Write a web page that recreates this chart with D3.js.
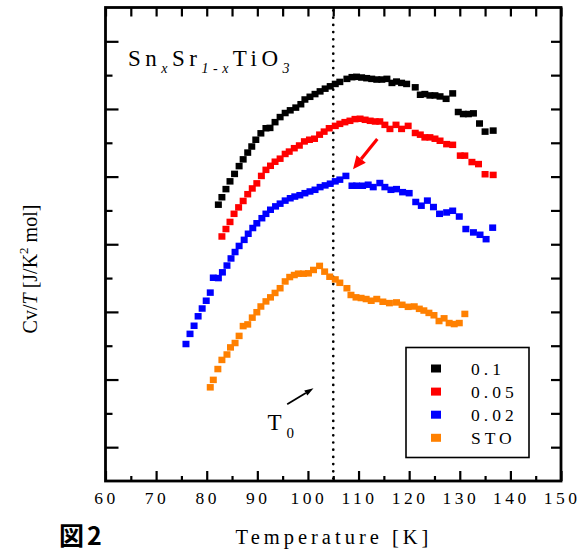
<!DOCTYPE html>
<html>
<head>
<meta charset="utf-8">
<script src="https://cdn.jsdelivr.net/npm/d3@7"></script>
<style>
  body { margin: 0; background: #fff; }
  svg { display: block; }
  text { font-family: "Liberation Serif", "Times New Roman", serif; fill: #000; }
</style>
</head>
<body>
<div id="chart"></div>
<script>
// Cv/T data, [T in K, Cv/T in plot units]
const x01 = [
  [82.3, 8.17], [83.0, 8.39], [83.8, 8.63], [84.6, 8.86], [85.5, 9.08], [86.4, 9.31],
  [87.2, 9.51], [88.1, 9.71], [88.9, 9.89], [89.7, 10.09], [90.7, 10.28], [91.7, 10.43],
  [92.5, 10.44], [93.5, 10.61], [94.5, 10.76], [95.5, 10.88], [96.5, 10.96], [97.6, 11.04],
  [98.6, 11.14], [99.4, 11.28], [100.4, 11.36], [101.4, 11.44], [102.4, 11.52], [103.4, 11.60],
  [104.4, 11.67], [105.4, 11.74], [106.3, 11.80], [107.7, 11.89], [108.7, 11.94], [109.6, 11.95],
  [110.6, 11.93], [111.6, 11.91], [112.6, 11.89], [113.6, 11.87], [114.6, 11.87], [115.6, 11.89],
  [116.6, 11.77], [117.5, 11.81], [118.5, 11.77], [119.5, 11.74], [121.2, 11.64], [122.2, 11.42],
  [123.1, 11.44], [124.1, 11.40], [125.1, 11.40], [126.1, 11.37], [127.3, 11.30], [128.6, 11.46],
  [129.7, 10.91], [130.7, 10.85], [131.7, 10.85], [132.7, 10.87], [133.9, 10.57], [135.0, 10.33],
  [136.6, 10.36]
];
const x005 = [
  [83.0, 7.23], [83.8, 7.45], [84.6, 7.66], [85.4, 7.90], [86.3, 8.09], [87.2, 8.28],
  [88.1, 8.48], [89.0, 8.65], [89.9, 8.80], [90.8, 9.02], [91.7, 9.20], [92.6, 9.32],
  [93.5, 9.44], [94.5, 9.53], [95.5, 9.67], [96.3, 9.74], [97.3, 9.84], [98.3, 9.92],
  [99.3, 10.04], [100.3, 10.09], [101.3, 10.12], [102.3, 10.24], [103.2, 10.33], [104.2, 10.43],
  [105.4, 10.50], [106.3, 10.56], [107.3, 10.61], [108.3, 10.65], [109.3, 10.70], [110.3, 10.71],
  [111.3, 10.68], [112.3, 10.65], [113.3, 10.63], [114.2, 10.63], [115.2, 10.53], [116.2, 10.41],
  [117.4, 10.53], [118.5, 10.41], [119.8, 10.50], [121.2, 10.29], [122.2, 10.24], [123.1, 10.16],
  [124.1, 10.16], [125.1, 10.12], [126.1, 10.06], [127.4, 9.96], [128.6, 9.94], [130.1, 9.62],
  [131.0, 9.62], [132.4, 9.43], [133.7, 9.37], [135.0, 9.07], [136.6, 9.05]
];
const x002 = [
  [75.9, 4.05], [76.7, 4.35], [77.5, 4.59], [78.3, 4.87], [79.1, 5.10], [79.9, 5.33],
  [80.7, 5.57], [81.3, 6.01], [82.3, 6.00], [83.1, 6.17], [84.0, 6.37], [84.8, 6.58],
  [85.6, 6.77], [86.4, 6.95], [87.4, 7.13], [88.2, 7.31], [89.1, 7.48], [89.9, 7.62],
  [90.9, 7.77], [91.7, 7.90], [92.6, 8.02], [93.6, 8.12], [94.5, 8.20], [95.5, 8.29],
  [96.5, 8.36], [97.4, 8.41], [98.4, 8.45], [99.4, 8.51], [100.4, 8.56], [101.4, 8.61],
  [102.4, 8.69], [103.4, 8.74], [104.4, 8.79], [105.4, 8.86], [106.3, 8.91], [107.5, 9.02],
  [108.7, 8.73], [109.6, 8.73], [110.8, 8.73], [111.9, 8.76], [112.9, 8.69], [114.2, 8.81],
  [115.2, 8.69], [116.4, 8.61], [117.5, 8.63], [118.7, 8.54], [120.0, 8.51], [121.3, 8.25],
  [122.4, 8.14], [123.6, 8.29], [124.8, 8.10], [126.0, 7.90], [127.4, 7.94], [128.6, 7.99],
  [129.9, 7.82], [131.2, 7.45], [132.7, 7.35], [134.0, 7.28], [135.2, 7.15], [136.5, 7.49]
];
const sto = [
  [80.7, 2.77], [81.3, 2.99], [82.2, 3.31], [83.0, 3.58], [84.0, 3.74], [84.7, 3.95],
  [85.6, 4.08], [86.4, 4.29], [87.2, 4.58], [88.1, 4.63], [89.0, 4.83], [89.9, 4.99],
  [90.7, 5.16], [91.7, 5.31], [92.6, 5.43], [93.5, 5.56], [94.5, 5.70], [95.5, 5.90],
  [96.4, 6.03], [97.3, 6.09], [98.1, 6.13], [99.1, 6.13], [100.1, 6.14], [101.1, 6.24],
  [102.3, 6.36], [103.3, 6.19], [104.3, 6.04], [105.4, 5.96], [106.3, 5.86], [107.7, 5.70],
  [108.5, 5.50], [109.5, 5.43], [110.5, 5.41], [111.5, 5.38], [112.5, 5.33], [113.6, 5.38],
  [114.8, 5.30], [116.1, 5.26], [117.5, 5.28], [118.6, 5.21], [119.8, 5.15], [121.0, 5.16],
  [122.0, 5.09], [122.9, 5.04], [123.9, 4.97], [124.9, 4.90], [125.9, 4.73], [126.9, 4.81],
  [127.9, 4.67], [128.9, 4.64], [129.9, 4.67], [131.0, 4.94]
];

const seriesNames = ["0.1", "0.05", "0.02", "STO"];
const seriesColors = ["#000000", "#ff0000", "#0000ff", "#ff8000"];
const seriesData = [x01, x005, x002, sto];

const xMajorTicks = d3.range(60, 151, 10);
const xMinorTicks = d3.range(65, 150, 10);
const yMajorTicks = [1, 3, 5, 7, 9, 11, 13];
const yMinorTicks = [2, 4, 6, 8, 10, 12];
const T0 = 105;

const width = 586, height = 552;
const plotLeft = 105.5, plotRight = 561, plotTop = 7.5, plotBottom = 481;

const svg = d3.select("#chart").append("svg")
  .attr("width", width)
  .attr("height", height);

const x = d3.scaleLinear().domain([60, 150]).range([plotLeft, plotRight]);
const y = d3.scaleLinear().domain([0, 14]).range([plotBottom, plotTop]);

// ticks (all inward)
const gTicks = svg.append("g");

gTicks.append("g")
  .attr("transform", `translate(0,${plotBottom})`)
  .call(d3.axisBottom(x).tickValues(xMajorTicks).tickSize(-10).tickFormat(""));
gTicks.append("g")
  .attr("transform", `translate(0,${plotBottom})`)
  .call(d3.axisBottom(x).tickValues(xMinorTicks).tickSize(-5).tickFormat(""));
gTicks.append("g")
  .attr("transform", `translate(0,${plotTop})`)
  .call(d3.axisTop(x).tickValues(xMajorTicks.concat(xMinorTicks)).tickSize(-9).tickFormat(""));
gTicks.append("g")
  .attr("transform", `translate(${plotLeft},0)`)
  .call(d3.axisLeft(y).tickValues(yMajorTicks).tickSize(-13).tickFormat(""));
gTicks.append("g")
  .attr("transform", `translate(${plotLeft},0)`)
  .call(d3.axisLeft(y).tickValues(yMinorTicks).tickSize(-7).tickFormat(""));
gTicks.append("g")
  .attr("transform", `translate(${plotRight},0)`)
  .call(d3.axisRight(y).tickValues(yMajorTicks.concat(yMinorTicks)).tickSize(-10).tickFormat(""));

gTicks.selectAll(".domain").remove();
gTicks.selectAll("line").attr("stroke", "#000").attr("stroke-width", 2.2);

// tick labels
svg.append("g").selectAll("text")
  .data(xMajorTicks)
  .join("text")
  .attr("x", d => x(d) + 1)
  .attr("y", 504)
  .attr("text-anchor", "middle")
  .style("font-size", "17.5px")
  .style("letter-spacing", "3.5px")
  .text(d => d);

// frame
svg.append("rect")
  .attr("x", plotLeft).attr("y", plotTop)
  .attr("width", plotRight - plotLeft).attr("height", plotBottom - plotTop)
  .attr("fill", "none")
  .attr("stroke", "#000")
  .attr("stroke-width", 2.8);

// dotted T0 line
svg.append("line")
  .attr("x1", x(T0)).attr("x2", x(T0))
  .attr("y1", plotTop + 3).attr("y2", plotBottom)
  .attr("stroke", "#000")
  .attr("stroke-width", 2.7)
  .attr("stroke-linecap", "round")
  .attr("stroke-dasharray", "0 7.2");

// data squares
const sq = 7, sqh = 6.5;
seriesData.slice().reverse().forEach((data, i) => {
  const color = seriesColors[seriesData.length - 1 - i];
  svg.append("g").selectAll("rect")
    .data(data)
    .join("rect")
    .attr("x", d => x(d[0]) - sq / 2)
    .attr("y", d => y(d[1]) - sqh / 2)
    .attr("width", sq)
    .attr("height", sqh)
    .attr("fill", color);
});

// red arrow to the blue peak
const redArrow = { from: [113.7, 10.11], to: [108.9, 9.22] };
// black arrow to T0
const blackArrow = { from: [95.9, 2.27], to: [101.1, 2.74] };

function arrow(a, color, w, headLen, headW) {
  const x1 = x(a.from[0]), y1 = y(a.from[1]);
  const x2 = x(a.to[0]), y2 = y(a.to[1]);
  const ang = Math.atan2(y2 - y1, x2 - x1);
  const bx = x2 - headLen * Math.cos(ang), by = y2 - headLen * Math.sin(ang);
  svg.append("line")
    .attr("x1", x1).attr("y1", y1).attr("x2", bx).attr("y2", by)
    .attr("stroke", color).attr("stroke-width", w);
  const px = -Math.sin(ang) * headW / 2, py = Math.cos(ang) * headW / 2;
  svg.append("path")
    .attr("d", `M${x2},${y2}L${bx + px},${by + py}L${bx - px},${by - py}Z`)
    .attr("fill", color);
}
arrow(redArrow, "#ff0000", 3.2, 13, 12);
arrow(blackArrow, "#000000", 1.8, 9, 6);

// T0 label
const t0 = svg.append("text")
  .attr("x", x(92.0))
  .attr("y", y(1.52))
  .style("font-size", "23px");
t0.append("tspan").text("T");
t0.append("tspan").attr("dy", 8).attr("dx", 5).style("font-size", "15px").text("0");

// compound title
const title = svg.append("text")
  .attr("x", 128)
  .attr("y", 66)
  .style("font-size", "23px")
  .style("letter-spacing", "4.5px");
title.append("tspan").text("Sn");
title.append("tspan").attr("dy", 7).style("font-size", "14px").style("font-style", "italic").text("x");
title.append("tspan").attr("dy", -7).text("Sr");
title.append("tspan").attr("dy", 7).style("font-size", "14px").style("font-style", "italic").text("1-x");
title.append("tspan").attr("dy", -7).text("TiO");
title.append("tspan").attr("dy", 7).style("font-size", "14px").style("font-style", "italic").text("3");

// legend
const legend = svg.append("g");
legend.append("rect")
  .attr("x", 406).attr("y", 347.5)
  .attr("width", 123).attr("height", 110)
  .attr("fill", "#fff")
  .attr("stroke", "#000")
  .attr("stroke-width", 1.6);
seriesNames.forEach((name, i) => {
  const cy = 368.5 + i * 23.1;
  legend.append("rect")
    .attr("x", 431).attr("y", cy - 4)
    .attr("width", 10).attr("height", 8)
    .attr("fill", seriesColors[i]);
  legend.append("text")
    .attr("x", 471).attr("y", cy + 6)
    .style("font-size", "17.5px")
    .style("letter-spacing", "4px")
    .text(name);
});

// axis titles
svg.append("text")
  .attr("x", 334)
  .attr("y", 544)
  .attr("text-anchor", "middle")
  .style("font-size", "20.5px")
  .style("letter-spacing", "4px")
  .text("Temperature [K]");

const yTitle = svg.append("text")
  .attr("transform", "translate(37,269) rotate(-90)")
  .attr("text-anchor", "middle")
  .style("font-size", "20px");
yTitle.append("tspan").text("Cv/");
yTitle.append("tspan").style("font-style", "italic").text("T");
yTitle.append("tspan").text(" [J/K");
yTitle.append("tspan").attr("dy", -9).style("font-size", "13px").text("2");
yTitle.append("tspan").attr("dy", 9).text(" mol]");

// figure number
svg.append("text")
  .attr("x", 59)
  .attr("y", 545)
  .style("font-family", "'Noto Sans CJK JP', 'Noto Sans', sans-serif")
  .style("font-weight", "bold")
  .style("font-size", "25px")
  .style("letter-spacing", "3px")
  .text("図2");
</script>
</body>
</html>
